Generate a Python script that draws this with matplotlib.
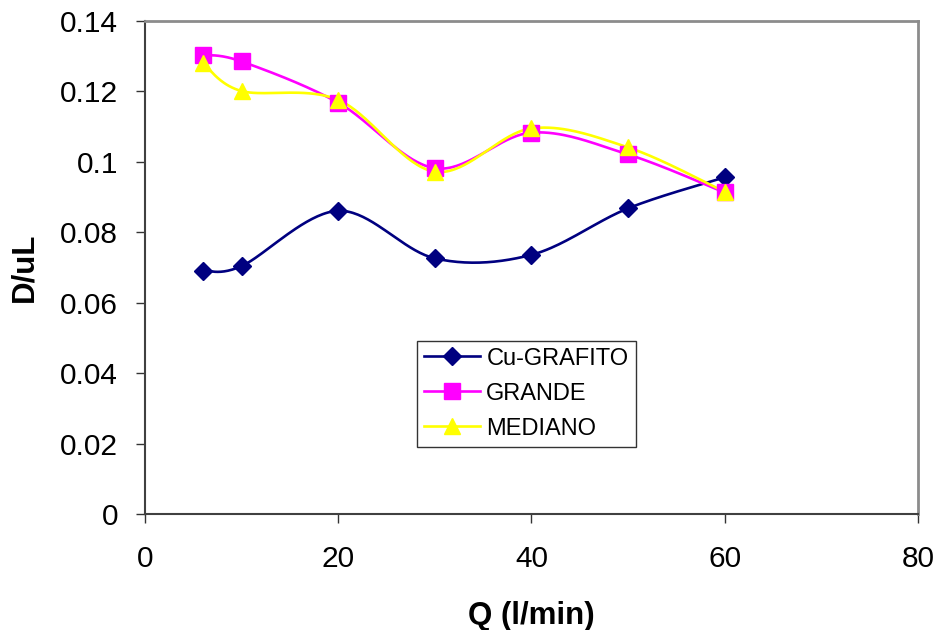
import numpy as np
import matplotlib
matplotlib.use("Agg")
import matplotlib.pyplot as plt
from matplotlib.lines import Line2D

plt.rcParams['font.family'] = ['Liberation Sans', 'DejaVu Sans']

q = [6, 10, 20, 30, 40, 50, 60]
cu_grafito = [0.0691, 0.0704, 0.0861, 0.0726, 0.0736, 0.0868, 0.0956]
grande = [0.1304, 0.1285, 0.1168, 0.0982, 0.1083, 0.1021, 0.0913]
mediano = [0.1280, 0.1201, 0.1176, 0.0972, 0.1095, 0.1041, 0.0915]
series_names = ["Cu-GRAFITO", "GRANDE", "MEDIANO"]
x_ticks = [0, 20, 40, 60, 80]
y_ticks = [0, 0.02, 0.04, 0.06, 0.08, 0.1, 0.12, 0.14]
y_tick_labels = ["0", "0.02", "0.04", "0.06", "0.08", "0.1", "0.12", "0.14"]


def smooth(x, y, n=40):
    x = np.asarray(x, float)
    y = np.asarray(y, float)
    P = np.column_stack([x, y])
    out = []
    for i in range(len(P) - 1):
        p0 = P[i - 1] if i > 0 else P[i]
        p1 = P[i]
        p2 = P[i + 1]
        p3 = P[i + 2] if i + 2 < len(P) else P[i + 1]
        c1 = p1 + (p2 - p0) / 6.0
        c2 = p2 - (p3 - p1) / 6.0
        t = np.linspace(0, 1, n)[:, None]
        seg = ((1 - t) ** 3) * p1 + 3 * ((1 - t) ** 2) * t * c1 + 3 * (1 - t) * t ** 2 * c2 + t ** 3 * p2
        out.append(seg if i == 0 else seg[1:])
    S = np.vstack(out)
    return S[:, 0], S[:, 1]


fig = plt.figure(figsize=(9.39, 6.30), dpi=100)
ax = fig.add_axes([0.1544, 0.1841, 0.8232, 0.7826])

styles = [
    (cu_grafito, "#000080", "D", 9),
    (grande, "#FF00FF", "s", 11),
    (mediano, "#FFFF00", "^", 11),
]
handles = []
for (vals, col, mk, ms), name in zip(styles, series_names):
    sx, sy = smooth(q, vals)
    ax.plot(sx, sy, color=col, lw=1.9, zorder=2)
    ax.plot(q, vals, linestyle="none", marker=mk, ms=ms, color=col,
            markeredgecolor=col, zorder=3)
    handles.append(Line2D([], [], color=col, lw=1.9, marker=mk, ms=ms,
                          markeredgecolor=col, label=name))

ax.set_xlim(0, 80)
ax.set_ylim(0, 0.14)
ax.set_xticks(x_ticks)
ax.set_xticklabels([str(v) for v in x_ticks])
ax.set_yticks(y_ticks)
ax.set_yticklabels(y_tick_labels)
ax.tick_params(axis='both', labelsize=21.5, direction='out', length=6.5,
               width=1.0, color='#333333')
ax.tick_params(axis='y', pad=13)
ax.tick_params(axis='x', pad=16)

for s in ['left', 'bottom']:
    ax.spines[s].set_color('#404040')
    ax.spines[s].set_linewidth(1.5)
for s in ['top', 'right']:
    ax.spines[s].set_color('#8c8c8c')
    ax.spines[s].set_linewidth(2)

ax.set_xlabel("Q (l/min)", fontsize=22.5, fontweight='bold', labelpad=20)
ax.set_ylabel("D/uL", fontsize=22.5, fontweight='bold', labelpad=15)

leg = ax.legend(handles=handles, loc='lower left', bbox_to_anchor=(0.3515, 0.1365),
                fontsize=17, frameon=True, fancybox=False, edgecolor='black',
                borderpad=0.3, labelspacing=0.55, handlelength=2.4,
                handletextpad=0.25, borderaxespad=0)
leg.get_frame().set_linewidth(1.0)

fig.savefig("out.png", dpi=100, facecolor='white')
